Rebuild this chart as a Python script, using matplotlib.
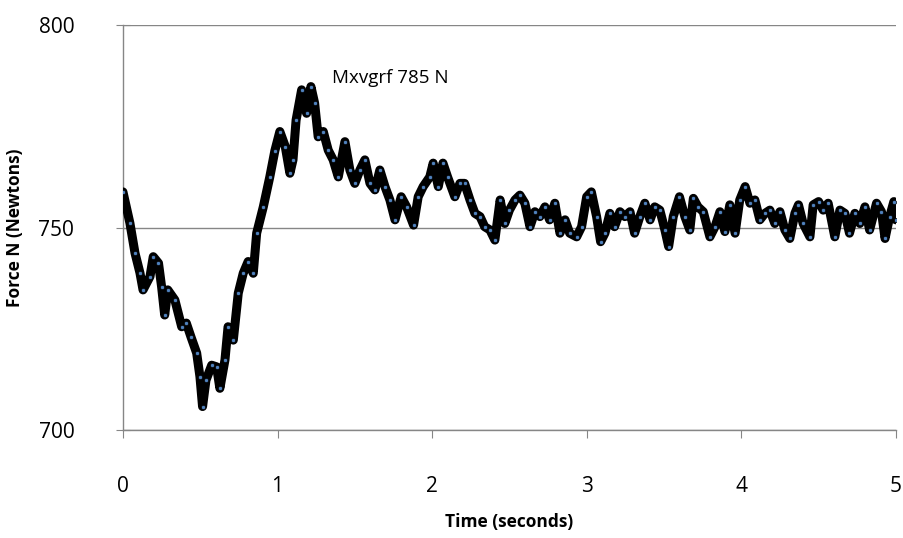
import matplotlib
matplotlib.use("Agg")
import matplotlib.pyplot as plt

plt.rcParams["font.family"] = ["Open Sans", "DejaVu Sans"]

# time (s) and vertical ground reaction force (N)
time = [
    0.00, 0.045, 0.078, 0.11, 0.13, 0.175, 0.196, 0.23, 0.25, 0.27, 0.29, 0.336,
    0.38, 0.41, 0.44, 0.477, 0.498, 0.515, 0.537, 0.574, 0.606, 0.627, 0.66, 0.68,
    0.714, 0.746, 0.778, 0.81, 0.843, 0.865, 0.908, 0.95, 0.983, 1.015, 1.05, 1.08,
    1.10, 1.12, 1.156, 1.188, 1.216, 1.24, 1.263, 1.296, 1.328, 1.36, 1.393, 1.436,
    1.468, 1.50, 1.533, 1.565, 1.598, 1.63, 1.662, 1.695, 1.727, 1.76, 1.80, 1.835,
    1.88, 1.91, 1.942, 1.985, 2.007, 2.04, 2.07, 2.10, 2.147, 2.18, 2.21, 2.245,
    2.277, 2.31, 2.34, 2.374, 2.406, 2.44, 2.47, 2.50, 2.536, 2.568, 2.60, 2.633,
    2.665, 2.697, 2.73, 2.76, 2.794, 2.827, 2.86, 2.89, 2.935, 2.967, 3.00, 3.03,
    3.064, 3.09, 3.118, 3.15, 3.18, 3.215, 3.247, 3.28, 3.31, 3.344, 3.376, 3.41,
    3.44, 3.473, 3.506, 3.53, 3.56, 3.60, 3.635, 3.667, 3.69, 3.72, 3.754, 3.797,
    3.83, 3.862, 3.894, 3.926, 3.96, 3.99, 4.025, 4.056, 4.088, 4.12, 4.153, 4.185,
    4.217, 4.25, 4.282, 4.314, 4.347, 4.37, 4.40, 4.444, 4.465, 4.50, 4.53, 4.562,
    4.605, 4.638, 4.67, 4.70, 4.735, 4.767, 4.80, 4.83, 4.875, 4.907, 4.93, 4.96,
    4.987, 5.00,
]
force = [
    758.8, 751.1, 743.7, 738.8, 734.6, 737.9, 742.8, 741.2, 735.4, 728.4, 734.6, 732.1,
    725.5, 726.4, 723.0, 719.0, 713.2, 705.8, 712.3, 716.0, 715.6, 710.3, 717.3, 725.5,
    722.2, 733.8, 738.7, 741.6, 738.7, 748.6, 755.1, 762.5, 769.0, 773.7, 770.0, 763.4,
    766.7, 776.5, 784.0, 778.2, 784.8, 780.7, 772.4, 773.7, 769.1, 766.7, 762.5, 771.2,
    764.2, 760.9, 764.2, 766.7, 760.9, 759.3, 764.2, 760.1, 756.8, 751.9, 757.6, 755.1,
    750.6, 757.6, 760.1, 762.5, 765.9, 760.1, 765.9, 762.5, 757.6, 760.9, 760.9, 756.8,
    753.5, 752.7, 750.2, 749.4, 746.9, 756.8, 751.0, 754.3, 756.8, 758.0, 756.0, 750.2,
    753.9, 752.7, 755.1, 751.9, 756.0, 748.6, 751.9, 748.6, 747.7, 750.2, 757.6, 758.8,
    752.7, 746.5, 748.6, 753.5, 750.2, 753.9, 752.7, 753.9, 748.6, 752.7, 756.0, 751.9,
    755.1, 754.3, 749.4, 745.3, 752.7, 757.6, 752.7, 749.4, 757.2, 755.1, 753.9, 747.7,
    750.2, 753.9, 749.0, 755.6, 748.6, 756.8, 760.1, 756.0, 756.8, 751.9, 753.5, 754.3,
    751.0, 753.9, 749.4, 747.3, 753.5, 755.6, 751.0, 747.7, 755.6, 756.4, 754.3, 756.0,
    747.7, 754.3, 753.5, 748.6, 753.5, 751.0, 755.1, 749.4, 756.0, 753.9, 747.3, 752.7,
    756.4, 751.9,
]

peak_label = "Mxvgrf 785 N"
peak_pos = (1.35, 787)

fig = plt.figure(figsize=(9.04, 5.38), dpi=100)
ax = fig.add_axes([0.136, 0.2007, 0.855, 0.7528])

ax.plot(time, force, "-", color="black", lw=6.5, solid_joinstyle="round",
        solid_capstyle="round", zorder=3)
ax.plot(time, force, "o", ms=3, mfc="#4F81BD", mec="black", mew=0.5, zorder=4)

ax.text(peak_pos[0], peak_pos[1], peak_label, fontsize=13.5, va="center", ha="left")

ax.set_xlim(0, 5)
ax.set_ylim(700, 800)
ax.set_xticks([0, 1, 2, 3, 4, 5])
ax.set_yticks([700, 750, 800])
ax.grid(axis="y", color="#868686", lw=1)
ax.set_axisbelow(True)

for side in ["top", "right"]:
    ax.spines[side].set_visible(False)
for side in ["left", "bottom"]:
    ax.spines[side].set_color("#868686")
    ax.spines[side].set_linewidth(1)

ax.tick_params(axis="y", direction="inout", length=10, color="#868686",
               labelsize=15, pad=30)
ax.tick_params(axis="x", direction="out", length=6, color="#868686",
               labelsize=15, pad=27)

ax.set_xlabel("Time (seconds)", fontsize=12.5, fontweight="bold")
ax.set_ylabel("Force N (Newtons)", fontsize=12.5, fontweight="bold")
ax.xaxis.set_label_coords(0.5, -0.205)
ax.yaxis.set_label_coords(-0.128, 0.5)

fig.savefig("out.png", dpi=100)
